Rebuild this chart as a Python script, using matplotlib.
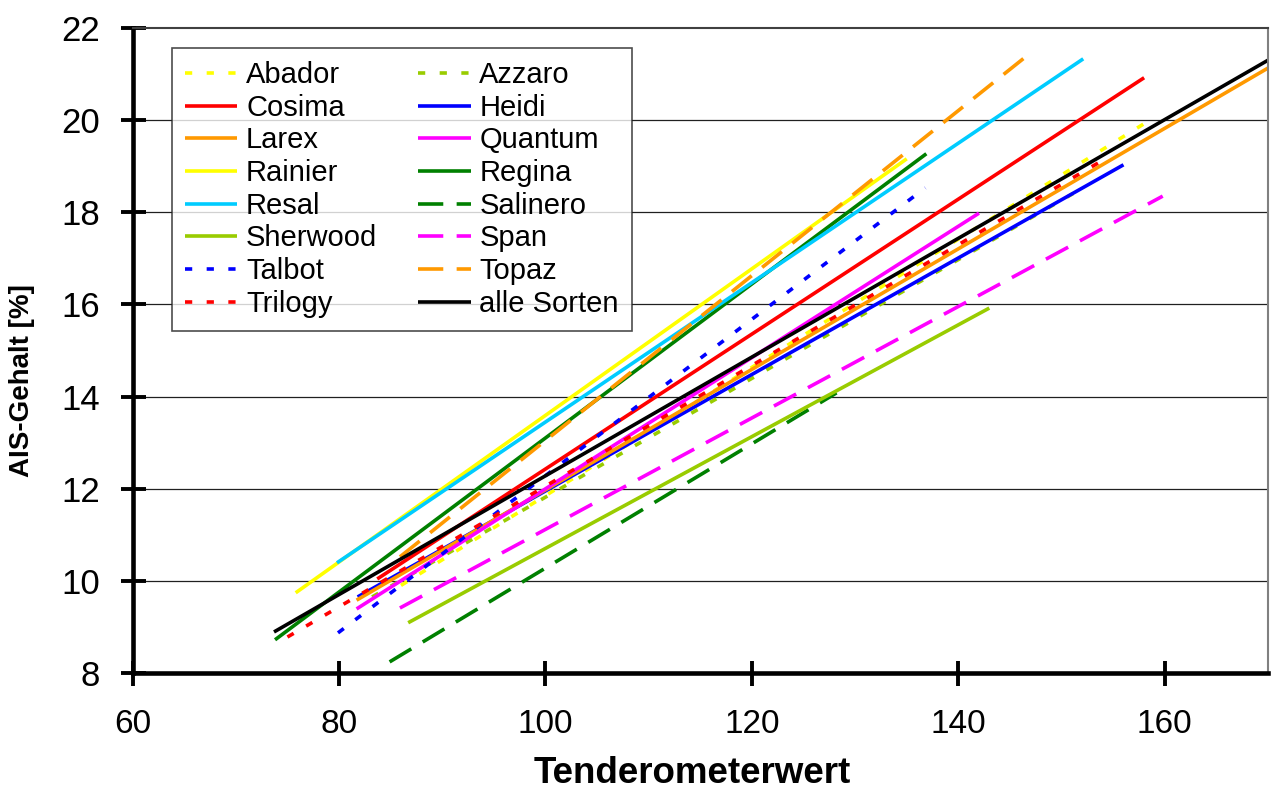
import matplotlib
matplotlib.use('Agg')
import matplotlib.pyplot as plt

plt.rcParams['font.family'] = ['Liberation Sans', 'DejaVu Sans']

# regression lines per variety: start / end points
sorten = ['Abador', 'Azzaro', 'Cosima', 'Heidi', 'Larex', 'Quantum', 'Rainier', 'Regina',
          'Resal', 'Salinero', 'Sherwood', 'Span', 'Talbot', 'Topaz', 'Trilogy', 'alle Sorten']
x_start = [86.0, 83.2, 83.7, 81.8, 81.7, 81.7, 75.8, 73.8, 79.8, 84.9, 86.7, 85.9, 79.9, 85.9, 75.0, 73.7]
y_start = [9.90, 9.65, 10.04, 9.65, 9.58, 9.39, 9.74, 8.72, 10.39, 8.24, 9.09, 9.41, 8.87, 10.52, 8.78, 8.89]
x_end = [158.7, 152.0, 158.0, 156.0, 170.0, 142.0, 135.0, 136.9, 152.1, 128.2, 143.0, 159.8, 136.8, 147.0, 154.0, 170.0]
y_end = [20.02, 18.52, 20.92, 19.03, 21.13, 17.98, 19.16, 19.27, 21.33, 14.08, 15.92, 18.35, 18.53, 21.46, 19.13, 21.30]

farben = ['#FFFF00', '#99CC00', '#FF0000', '#0000FF', '#FF9900', '#FF00FF', '#FFFF00', '#008000',
          '#00CCFF', '#008000', '#99CC00', '#FF00FF', '#0000FF', '#FF9900', '#FF0000', '#000000']
dot = (0, (2.0, 4.0))
dash = (0, (7, 3.7))
stile = [dot, dot, '-', '-', '-', '-', '-', '-', '-', dash, '-', dash, dot, dash, dot, '-']

fig = plt.figure(figsize=(12.75, 7.88), dpi=100)
ax = fig.add_axes([0.104, 0.146, 0.8905, 0.8185])

handles = []
for i in range(len(sorten)):
    h, = ax.plot([x_start[i], x_end[i]], [y_start[i], y_end[i]], color=farben[i],
                 linestyle=stile[i], linewidth=2.6, label=sorten[i], solid_capstyle='butt')
    handles.append(h)

ax.set_xlim(60, 170)
ax.set_ylim(8, 22)
ax.set_xticks([60, 80, 100, 120, 140, 160])
ax.set_yticks([8, 10, 12, 14, 16, 18, 20, 22])
for yy in [10, 12, 14, 16, 18, 20]:
    ax.axhline(yy, color='#202020', linewidth=0.9, zorder=0)

ax.spines['left'].set_linewidth(3.3)
ax.spines['bottom'].set_linewidth(3.3)
ax.spines['top'].set_linewidth(1.5)
ax.spines['top'].set_color('#404040')
ax.spines['right'].set_linewidth(1.5)
ax.spines['right'].set_color('#808080')
ax.tick_params(axis='both', direction='inout', length=18, width=2.8)
ax.tick_params(axis='y', labelsize=25, pad=14.5)
ax.tick_params(axis='x', labelsize=24, pad=17)

ax.set_xlabel('Tenderometerwert', fontsize=26.5, fontweight='bold', va='top')
ax.xaxis.set_label_coords(0.4925, -0.128)
ax.set_ylabel('AIS-Gehalt [%]', fontsize=20, fontweight='bold')
ax.yaxis.set_label_coords(-0.0863, 0.454)

# Excel fills the legend row by row
order = list(range(0, 16, 2)) + list(range(1, 16, 2))
leg = ax.legend([handles[k] for k in order], [sorten[k] for k in order], ncol=2,
                loc='upper left', bbox_to_anchor=(0.0344, 0.969), borderaxespad=0,
                fontsize=21, frameon=True, fancybox=False, handlelength=1.8,
                handletextpad=0.3, columnspacing=1.4, labelspacing=0.16, borderpad=0.45)
leg.get_frame().set_edgecolor('#202020')
leg.get_frame().set_linewidth(1.2)

fig.savefig('out.png', dpi=100)
